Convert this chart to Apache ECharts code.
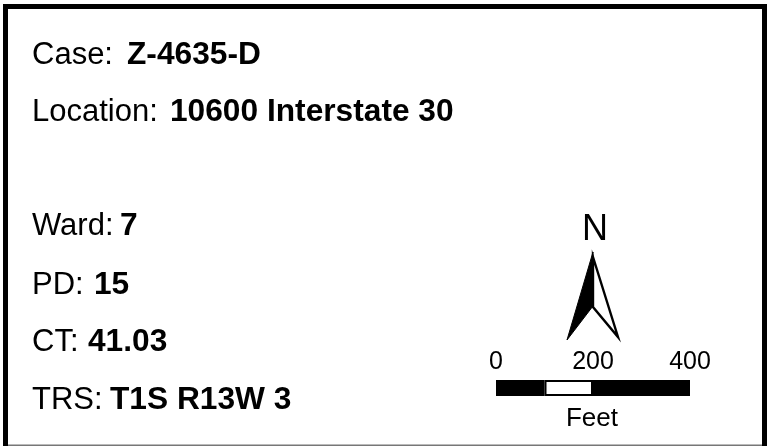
<!DOCTYPE html>
<html><head><meta charset="utf-8">
<style>html,body{margin:0;padding:0;background:#fff}#c{width:775px;height:446px}</style>
<script src="https://cdn.jsdelivr.net/npm/echarts@6/dist/echarts.min.js"></script>
</head><body><div id="c"></div>
<script>
var fieldNames = ['Case:', 'Location:', 'Ward:', 'PD:', 'CT:', 'TRS:'];
var fieldValues = ['Z-4635-D', '10600 Interstate 30', '7', '15', '41.03', 'T1S R13W 3'];
var scaleTicks = [0, 200, 400];
var scaleSegments = [100, 100, 200];
var scaleColors = ['#000', '#fff', '#000'];
var scaleUnit = 'Feet';
var northLabel = 'N';

var F = '"Liberation Sans", Arial, sans-serif';
var nameY = [55, 112, 226, 285, 342, 400];
var valueX = [127, 170, 120, 94, 88, 110];
var graphics = [];
fieldNames.forEach(function (n, i) {
  graphics.push({type:'text', x:32, y:nameY[i], style:{text:n, font:'31px '+F, fill:'#000', textVerticalAlign:'middle'}});
  graphics.push({type:'text', x:valueX[i], y:nameY[i], style:{text:fieldValues[i], font:'bold 31.7px '+F, fill:'#000', textVerticalAlign:'middle'}});
});
// frame
graphics.push({type:'rect', shape:{x:3,y:4,width:5,height:442}, style:{fill:'#000'}});
graphics.push({type:'rect', shape:{x:3,y:4,width:764,height:5}, style:{fill:'#000'}});
graphics.push({type:'rect', shape:{x:762,y:4,width:5,height:442}, style:{fill:'#000'}});
graphics.push({type:'rect', shape:{x:8,y:444.5,width:754,height:1.5}, style:{fill:'#777'}});
// north arrow
graphics.push({type:'polygon', shape:{points:[[593,252],[593,306],[567,340]]}, style:{fill:'#000', stroke:'#000', lineWidth:1}});
graphics.push({type:'polygon', shape:{points:[[593,257],[593,307],[618,337]]}, style:{fill:'#fff', stroke:'#000', lineWidth:2.4, lineJoin:'miter'}});
graphics.push({type:'text', x:595, y:230, style:{text:northLabel, font:'36px '+F, fill:'#000', textAlign:'center', textVerticalAlign:'middle'}});
graphics.push({type:'text', x:592, y:419, style:{text:scaleUnit, font:'26px '+F, fill:'#000', textAlign:'center', textVerticalAlign:'middle'}});

var chart = echarts.init(document.getElementById('c'), null, {renderer:'canvas'});
chart.setOption({
  animation:false,
  backgroundColor:'#fff',
  grid:{left:496, top:380, width:194, height:16, containLabel:false},
  xAxis:{type:'value', position:'top', min:scaleTicks[0], max:scaleTicks[scaleTicks.length-1], interval:200,
    axisLine:{show:false}, axisTick:{show:false}, splitLine:{show:false},
    axisLabel:{show:true, color:'#000', fontFamily:F, fontSize:25, margin:5, hideOverlap:false, formatter:function(v){return String(v);}}},
  yAxis:{type:'category', data:['scale'], show:false},
  series: scaleSegments.map(function (v, i) {
    return {type:'bar', stack:'s', barWidth:16, silent:true, data:[v],
      itemStyle:{color:scaleColors[i], borderColor:'#000', borderWidth:i===1?2:0}};
  }),
  graphic:{elements:graphics}
});
</script></body></html>
